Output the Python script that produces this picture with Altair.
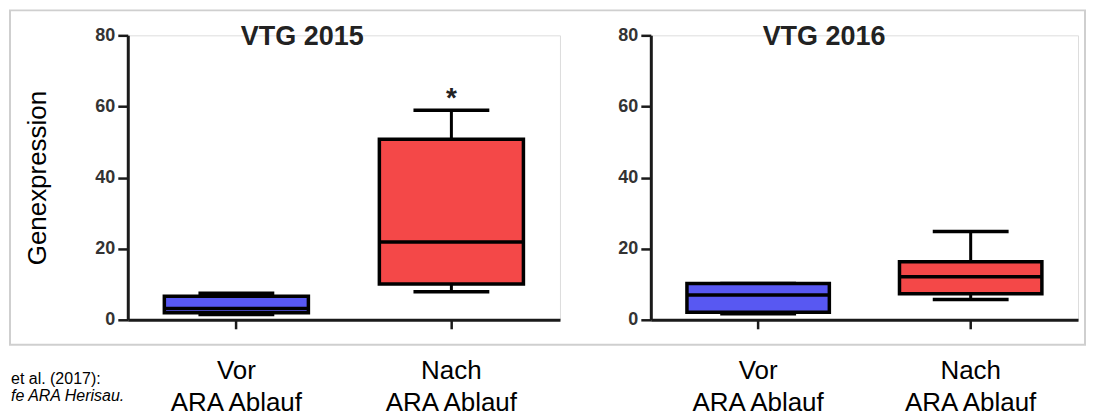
import altair as alt
import pandas as pd

# ---- data ----
panel = ["VTG 2015", "VTG 2015", "VTG 2016", "VTG 2016"]
group = ["Vor", "Nach", "Vor", "Nach"]
whisker_low = [1.5, 7.9, 1.7, 5.7]
q1 = [2.0, 10.1, 2.1, 7.3]
median = [3.2, 21.9, 7.0, 12.1]
q3 = [6.6, 50.8, 10.2, 16.3]
whisker_high = [7.5, 58.9, 10.2, 24.8]
signif = ["", "*", "", ""]

group_order = ["Vor", "Nach"]
group_colors = ["#5858f2", "#f44848"]
y_ticks = [0, 20, 40, 60, 80]
citation_1 = ["et al. (2017):"]
citation_2 = ["fe ARA Herisau."]

df = pd.DataFrame({
    "panel": panel, "group": group, "lo": whisker_low, "q1": q1,
    "med": median, "q3": q3, "hi": whisker_high, "sig": signif,
})

FONT = "Liberation Sans"
INK = "#1a1a1a"


def panel_chart(name, width, first):
    d = df[df["panel"] == name]
    base = alt.Chart(d)
    xscale = alt.Scale(domain=group_order, paddingInner=0.33, paddingOuter=0.17)
    x = alt.X("group:N", scale=xscale, sort=group_order,
              axis=alt.Axis(title=None, labelExpr="[datum.label, 'ARA Ablauf']",
                            labelAngle=0, labelFontSize=26, labelFont=FONT,
                            labelColor="black", labelPadding=29, labelLineHeight=32,
                            labelBaseline="top", domainColor=INK, domainWidth=3,
                            tickColor=INK, tickWidth=2.5, tickSize=9))
    yaxis_kw = dict(values=y_ticks, labelFontSize=18, labelFont=FONT,
                    labelFontWeight="bold", labelColor="#333333", labelPadding=3,
                    domainColor=INK, domainWidth=3, tickColor=INK, tickWidth=2.5,
                    tickSize=10, grid=False)
    if first:
        yaxis = alt.Axis(title="Genexpression", titleFontSize=26, titleFont=FONT,
                         titleFontWeight="normal", titleColor="black",
                         titlePadding=44, **yaxis_kw)
    else:
        yaxis = alt.Axis(title=None, **yaxis_kw)
    yscale = alt.Scale(domain=[0, 80], nice=False)

    lower = base.mark_rule(color="black", strokeWidth=3).encode(
        x=x, y=alt.Y("lo:Q", scale=yscale, axis=yaxis), y2="q1:Q")
    upper = base.mark_rule(color="black", strokeWidth=3).encode(
        x=x, y=alt.Y("q3:Q", scale=yscale), y2="hi:Q")
    cap_lo = base.mark_tick(color="black", size=76, thickness=3.5, opacity=1).encode(
        x=x, y=alt.Y("lo:Q", scale=yscale))
    cap_hi = base.mark_tick(color="black", size=76, thickness=3.5, opacity=1).encode(
        x=x, y=alt.Y("hi:Q", scale=yscale))
    box = base.mark_bar(stroke="black", strokeWidth=3.5, opacity=1).encode(
        x=x, y=alt.Y("q1:Q", scale=yscale), y2="q3:Q",
        color=alt.Color("group:N", scale=alt.Scale(domain=group_order, range=group_colors),
                        legend=None))
    med = base.mark_tick(color="black", size=142, thickness=3.5, opacity=1).encode(
        x=x, y=alt.Y("med:Q", scale=yscale))
    star = base.mark_text(font=FONT, fontSize=28, fontWeight="bold", color="#222222",
                          baseline="alphabetic", dy=-3).encode(
        x=x, y=alt.Y("hi:Q", scale=yscale), text="sig:N")
    title = base.transform_filter(alt.datum.group == "Vor").mark_text(
        font=FONT, fontSize=27, fontWeight="bold", color="#222222",
        baseline="alphabetic", align="center", dx=66, dy=10).encode(
        x=x, y=alt.Y(datum=80, scale=yscale), text="panel:N")

    layers = [lower, upper, cap_lo, cap_hi, box, med, star, title]

    if first:
        one = alt.Chart(pd.DataFrame({"k": [0]}))
        border = one.mark_rect(filled=False, stroke="#cfcfcf", strokeWidth=2).encode(
            x=alt.value(-118), x2=alt.value(959), y=alt.value(-25), y2=alt.value(310))
        c1 = alt.Chart(pd.DataFrame({"t": citation_1})).mark_text(
            font=FONT, fontSize=16, color="black", align="left",
            baseline="alphabetic").encode(x=alt.value(-117), y=alt.value(349), text="t:N")
        c2 = alt.Chart(pd.DataFrame({"t": citation_2})).mark_text(
            font=FONT, fontSize=16, fontStyle="italic", color="black", align="left",
            baseline="alphabetic").encode(x=alt.value(-117), y=alt.value(366), text="t:N")
        layers = [border, c1, c2] + layers

    return alt.layer(*layers).properties(width=width, height=285)


left = panel_chart("VTG 2015", 433, True)
right = panel_chart("VTG 2016", 428, False)

chart = alt.hconcat(left, right, spacing=91, bounds="flush").resolve_scale(
    x="independent", y="independent").properties(
    padding={"left": 0, "top": 0, "right": 0, "bottom": 0}).configure_view(
    stroke=None).configure(background="white")

chart.save("out.html", embed_options={"renderer": "svg", "actions": False})
